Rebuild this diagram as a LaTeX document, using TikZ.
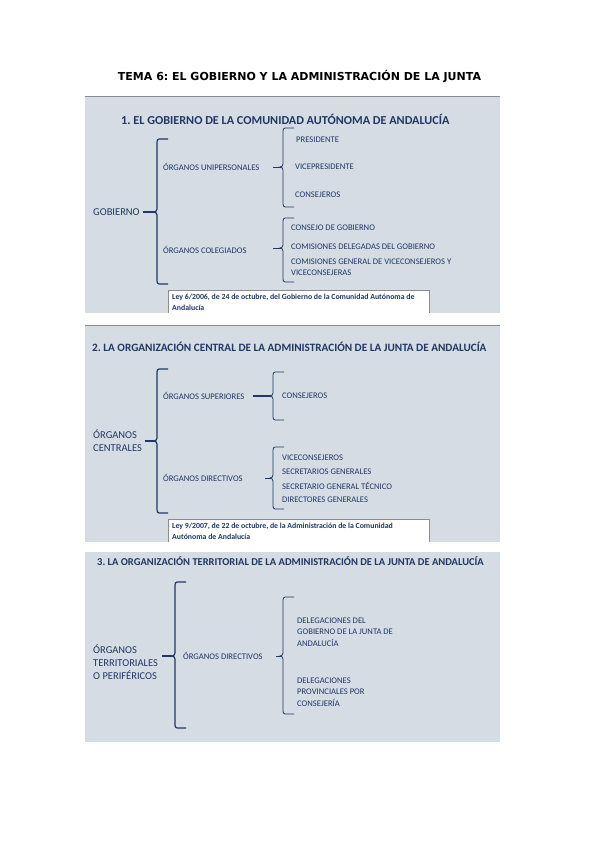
\documentclass[tikz,border=0pt]{standalone}
\usepackage{fontspec}
\setmainfont{Carlito}
\newfontfamily\temafont{DejaVu Sans}
\usetikzlibrary{positioning}
\definecolor{panelgris}{HTML}{D6DCE4}
\definecolor{azul}{HTML}{1F3864}
\definecolor{bordegris}{HTML}{8C8C8C}
\frenchspacing

\tikzset{
  panel/.style = {fill = panelgris, draw = none},
  seccion/.style = {anchor = west, font = \bfseries\fontsize{10.5}{12}\selectfont, text = azul, inner sep = 0pt},
  raiz/.style = {anchor = west, align = left, font = \fontsize{10.5}{13}\selectfont, text = azul, inner sep = 0pt},
  rama/.style = {anchor = west, font = \fontsize{8.6}{9}\selectfont, text = azul, inner sep = 0pt},
  hoja/.style = {anchor = west, align = left, font = \fontsize{8.6}{11.5}\selectfont, text = azul, inner sep = 0pt},
  ley/.style = {anchor = north west, align = left, font = \bfseries\fontsize{7.8}{10.5}\selectfont, text = azul, inner sep = 0pt},
  llave/.style = {draw = azul, line width = 1.2pt},
  llavefina/.style = {draw = azul, line width = .8pt},
}

% corchete: x, arriba, abajo, medio
\newcommand{\corchete}[5][llave]{%
  \draw[#1] (#2+11,#3) -- (#2+2,#3) to[out=180,in=90] (#2,#3+3) -- (#2,#5-3)
    to[out=270,in=0] (#2-3,#5) to[out=0,in=90] (#2,#5+3) -- (#2,#4-3)
    to[out=270,in=180] (#2+2,#4) -- (#2+11,#4);}

\begin{document}
\begin{tikzpicture}[x = 1pt, y = -1pt]
\useasboundingbox[fill = white] (0,0) rectangle (599,848);

\node[font = \temafont\bfseries\fontsize{11}{13}\selectfont, inner sep = 0pt] (tema) at (299.5,77) {TEMA 6: EL GOBIERNO Y LA ADMINISTRACIÓN DE LA JUNTA};

% --- panel 1 ---
\fill[panel] (85,96) rectangle (500,313);
\draw[bordegris, line width = .8pt] (85,96) -- (500,96);
\node[seccion, font = \bfseries\fontsize{12.2}{14}\selectfont] (sec1) at (121,119) {1. EL GOBIERNO DE LA COMUNIDAD AUTÓNOMA DE ANDALUCÍA};

\node[raiz] (gob) at (93,212) {GOBIERNO};
\corchete{157}{139}{284}{212}
\coordinate (c1) at (154,212);
\draw[llave] (gob.east) ++(3,0) -- (c1);

\node[rama] (unip) at (163,167) {ÓRGANOS UNIPERSONALES};
\corchete[llavefina]{283}{128}{207}{167}
\coordinate (c2) at (281,167);
\draw[llavefina] (273,167) -- (c2);
\node[hoja] (pres) at (296,140) {PRESIDENTE};
\node[hoja] (vice) at (295,167) {VICEPRESIDENTE};
\node[hoja] (cons1) at (295,195) {CONSEJEROS};

\node[rama] (coleg) at (163,250) {ÓRGANOS COLEGIADOS};
\corchete[llavefina]{283}{218}{282}{248}
\coordinate (c3) at (281,248);
\draw[llavefina] (273,248) -- (c3);
\node[hoja] (cgob) at (291,228) {CONSEJO DE GOBIERNO};
\node[hoja] (cdel) at (291,247) {COMISIONES DELEGADAS DEL GOBIERNO};
\node[hoja] (cgen) at (291,267) {COMISIONES GENERAL DE VICECONSEJEROS Y\\VICECONSEJERAS};

\filldraw[fill = white, draw = bordegris, line width = .6pt] (168,313) -- (168,290) -- (429,290) -- (429,313);
\node[ley] (ley1) at (172,294) {Ley 6/2006, de 24 de octubre, del Gobierno de la Comunidad Autónoma de\\Andalucía};

% --- panel 2 ---
\fill[panel] (85,325) rectangle (500,542);
\draw[bordegris, line width = .8pt] (85,325) -- (500,325);
\node[seccion, font = \bfseries\fontsize{11.2}{13}\selectfont] (sec2) at (92,347) {2. LA ORGANIZACIÓN CENTRAL DE LA ADMINISTRACIÓN DE LA JUNTA DE ANDALUCÍA};

\node[raiz] (centr) at (93,441) {ÓRGANOS\\CENTRALES};
\corchete{157}{369}{513}{441}
\coordinate (c4) at (154,441);
\draw[llave] (centr.east) ++(3,0) -- (c4);

\node[rama] (sup) at (163,396) {ÓRGANOS SUPERIORES};
\corchete[llavefina]{273}{372}{420}{396}
\coordinate (c5) at (271,396);
\draw[llave] (sup.east) ++(8,0) -- (c5);
\node[hoja] (cons2) at (282,396) {CONSEJEROS};

\node[rama] (dir2) at (163,478) {ÓRGANOS DIRECTIVOS};
\corchete[llavefina]{273}{447}{509}{478}
\coordinate (c6) at (271,478);
\draw[llavefina] (265,478) -- (c6);
\node[hoja] (vcons) at (282,458) {VICECONSEJEROS};
\node[hoja] (sgen) at (282,472) {SECRETARIOS GENERALES};
\node[hoja] (sgt) at (282,486) {SECRETARIO GENERAL TÉCNICO};
\node[hoja] (dgen) at (282,500) {DIRECTORES GENERALES};

\filldraw[fill = white, draw = bordegris, line width = .6pt] (168,542) -- (168,519) -- (429,519) -- (429,542);
\node[ley] (ley2) at (172,523) {Ley 9/2007, de 22 de octubre, de la Administración de la Comunidad\\Autónoma de Andalucía};

% --- panel 3 ---
\fill[panel] (85,552) rectangle (500,742);
\node[seccion] (sec3) at (97,561) {3. LA ORGANIZACIÓN TERRITORIAL DE LA ADMINISTRACIÓN DE LA JUNTA DE ANDALUCÍA};

\node[raiz] (terr) at (93,662) {ÓRGANOS\\TERRITORIALES\\O PERIFÉRICOS};
\corchete{175}{582}{728}{656}
\coordinate (c7) at (172,656);
\draw[llave] (162,656) -- (c7);

\node[rama] (dir3) at (183,656) {ÓRGANOS DIRECTIVOS};
\corchete[llavefina]{283}{597}{714}{656}
\coordinate (c8) at (281,656);
\draw[llavefina] (276,656) -- (c8);
\node[hoja] (deleg) at (297,632) {DELEGACIONES DEL\\GOBIERNO DE LA JUNTA DE\\ANDALUCÍA};
\node[hoja] (prov) at (297,692) {DELEGACIONES\\PROVINCIALES POR\\CONSEJERÍA};
\end{tikzpicture}
\end{document}
